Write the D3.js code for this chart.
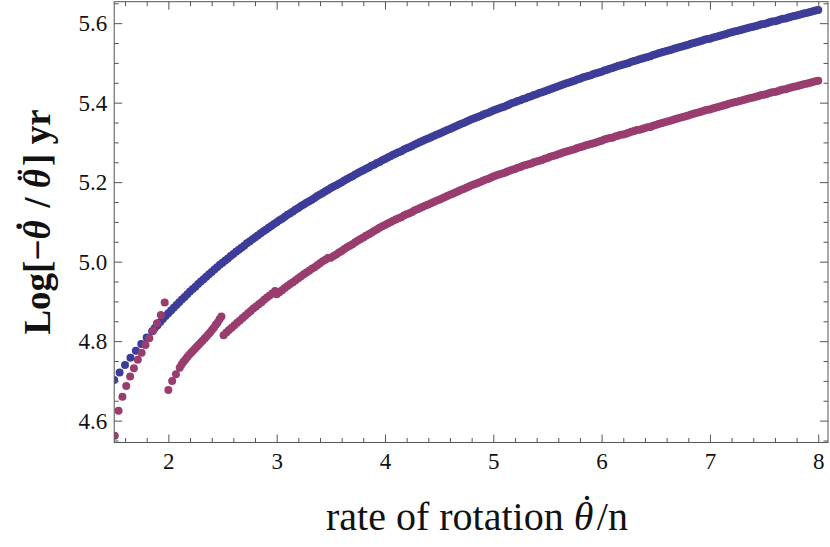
<!DOCTYPE html>
<html><head><meta charset="utf-8">
<script src="https://cdn.jsdelivr.net/npm/d3@7"></script>
<style>body{margin:0;background:#fff} svg{display:block}</style>
</head><body>
<svg id="c" width="830" height="547"></svg>
<script>
// ---- data ----
const xTicks = [2, 3, 4, 5, 6, 7, 8];
const yTicks = [4.6, 4.8, 5.0, 5.2, 5.4, 5.6];
const xTickLabels = ["2", "3", "4", "5", "6", "7", "8"];
const yTickLabels = ["4.6", "4.8", "5.0", "5.2", "5.4", "5.6"];

// blue series, low part
const blueLeftX = [1.50,1.55,1.60,1.65,1.70,1.75,1.80,1.85,1.875,1.90,1.925,1.95,1.975,
2.000,2.025,2.050,2.075,2.100,2.125,2.150,2.175,2.200,2.225,2.250,2.275,2.300,2.325,2.350,2.375,2.400,2.425,2.450,2.475];
const blueLeftY = [4.702,4.721,4.740,4.758,4.776,4.793,4.809,4.825,4.833,4.840,4.848,4.856,4.863,
4.870,4.877,4.884,4.891,4.898,4.905,4.911,4.918,4.925,4.931,4.937,4.944,4.950,4.956,4.962,4.968,4.974,4.980,4.986,4.992];

// blue series, x from 2.5 to 8
const blueRightX = [
2.500,2.525,2.550,2.575,2.600,2.625,2.650,2.675,2.700,2.725,2.750,2.775,2.800,2.825,2.850,2.875,2.900,2.925,2.950,2.975,
3.000,3.025,3.050,3.075,3.100,3.125,3.150,3.175,3.200,3.225,3.250,3.275,3.300,3.325,3.350,3.375,3.400,3.425,3.450,3.475,
3.500,3.525,3.550,3.575,3.600,3.625,3.650,3.675,3.700,3.725,3.750,3.775,3.800,3.825,3.850,3.875,3.900,3.925,3.950,3.975,
4.000,4.025,4.050,4.075,4.100,4.125,4.150,4.175,4.200,4.225,4.250,4.275,4.300,4.325,4.350,4.375,4.400,4.425,4.450,4.475,
4.500,4.525,4.550,4.575,4.600,4.625,4.650,4.675,4.700,4.725,4.750,4.775,4.800,4.825,4.850,4.875,4.900,4.925,4.950,4.975,
5.000,5.025,5.050,5.075,5.100,5.125,5.150,5.175,5.200,5.225,5.250,5.275,5.300,5.325,5.350,5.375,5.400,5.425,5.450,5.475,
5.500,5.525,5.550,5.575,5.600,5.625,5.650,5.675,5.700,5.725,5.750,5.775,5.800,5.825,5.850,5.875,5.900,5.925,5.950,5.975,
6.000,6.025,6.050,6.075,6.100,6.125,6.150,6.175,6.200,6.225,6.250,6.275,6.300,6.325,6.350,6.375,6.400,6.425,6.450,6.475,
6.500,6.525,6.550,6.575,6.600,6.625,6.650,6.675,6.700,6.725,6.750,6.775,6.800,6.825,6.850,6.875,6.900,6.925,6.950,6.975,
7.000,7.025,7.050,7.075,7.100,7.125,7.150,7.175,7.200,7.225,7.250,7.275,7.300,7.325,7.350,7.375,7.400,7.425,7.450,7.475,
7.500,7.525,7.550,7.575,7.600,7.625,7.650,7.675,7.700,7.725,7.750,7.775,7.800,7.825,7.850,7.875,7.900,7.925,7.950,7.975,
8.000];
const blueRightY = [
4.997,5.003,5.008,5.014,5.019,5.025,5.030,5.035,5.040,5.046,5.051,5.056,5.061,5.066,5.071,5.076,5.080,5.085,5.090,5.095,
5.099,5.104,5.108,5.113,5.118,5.122,5.126,5.131,5.135,5.140,5.144,5.148,5.152,5.156,5.160,5.165,5.169,5.173,5.177,5.181,
5.185,5.189,5.192,5.196,5.200,5.204,5.208,5.212,5.215,5.219,5.223,5.227,5.230,5.234,5.237,5.241,5.244,5.248,5.251,5.255,
5.258,5.262,5.265,5.269,5.272,5.275,5.278,5.282,5.285,5.288,5.291,5.295,5.298,5.301,5.304,5.307,5.310,5.313,5.316,5.319,
5.322,5.325,5.328,5.331,5.334,5.337,5.340,5.343,5.346,5.349,5.352,5.355,5.358,5.361,5.363,5.366,5.369,5.372,5.374,5.377,
5.380,5.383,5.385,5.388,5.390,5.393,5.396,5.399,5.401,5.404,5.406,5.409,5.411,5.414,5.416,5.419,5.421,5.424,5.426,5.429,
5.431,5.434,5.436,5.439,5.441,5.444,5.446,5.449,5.451,5.453,5.455,5.458,5.460,5.463,5.465,5.467,5.469,5.472,5.474,5.476,
5.478,5.481,5.483,5.485,5.487,5.490,5.492,5.494,5.496,5.498,5.500,5.503,5.505,5.507,5.509,5.511,5.513,5.515,5.517,5.520,
5.522,5.524,5.526,5.528,5.530,5.532,5.534,5.536,5.538,5.540,5.542,5.544,5.546,5.548,5.550,5.552,5.554,5.556,5.558,5.560,
5.561,5.563,5.565,5.567,5.569,5.571,5.573,5.575,5.577,5.579,5.580,5.582,5.584,5.586,5.588,5.590,5.591,5.593,5.595,5.597,
5.598,5.600,5.602,5.604,5.605,5.607,5.609,5.611,5.612,5.614,5.616,5.618,5.619,5.621,5.623,5.625,5.626,5.628,5.630,5.632,
5.633];

// magenta series, the broken low part (x < 3.5)
const magentaLeftX = [
1.505,1.540,1.576,1.611,1.647,1.682,1.718,1.753,1.789,1.824,1.860,1.895,1.931,1.966,
2.000,2.035,2.070,2.105,2.1225,2.140,2.1575,2.175,2.1925,2.210,2.2275,2.245,2.2625,2.280,2.2975,2.315,2.3325,2.350,2.3675,2.385,2.4025,2.420,2.4375,2.455,2.4725,2.490,
2.510,2.535,2.560,2.585,2.610,2.635,2.660,2.685,2.710,2.735,2.760,2.785,2.810,2.835,2.860,2.885,2.910,2.935,2.960,2.985,
3.000,3.025,3.050,3.075,3.100,3.125,3.150,3.175,3.200,3.225,3.250,3.275,3.300,3.325,3.350,3.375,3.400,3.425,3.450,3.475];
const magentaLeftY = [
4.562,4.625,4.660,4.687,4.711,4.732,4.753,4.771,4.790,4.807,4.826,4.845,4.866,4.897,
4.677,4.700,4.717,4.733,4.741,4.748,4.754,4.760,4.766,4.771,4.776,4.781,4.786,4.791,4.796,4.801,4.806,4.811,4.817,4.822,4.828,4.834,4.841,4.847,4.855,4.862,
4.815,4.822,4.828,4.834,4.840,4.846,4.852,4.858,4.864,4.870,4.876,4.882,4.887,4.893,4.898,4.904,4.910,4.915,4.920,4.926,
4.918,4.923,4.928,4.934,4.939,4.944,4.948,4.953,4.958,4.963,4.968,4.973,4.977,4.982,4.986,4.991,4.996,5.001,5.005,5.010];

// magenta series, x from 3.5 to 8
const magentaRightX = [
3.500,3.525,3.550,3.575,3.600,3.625,3.650,3.675,3.700,3.725,3.750,3.775,3.800,3.825,3.850,3.875,3.900,3.925,3.950,3.975,
4.000,4.025,4.050,4.075,4.100,4.125,4.150,4.175,4.200,4.225,4.250,4.275,4.300,4.325,4.350,4.375,4.400,4.425,4.450,4.475,
4.500,4.525,4.550,4.575,4.600,4.625,4.650,4.675,4.700,4.725,4.750,4.775,4.800,4.825,4.850,4.875,4.900,4.925,4.950,4.975,
5.000,5.025,5.050,5.075,5.100,5.125,5.150,5.175,5.200,5.225,5.250,5.275,5.300,5.325,5.350,5.375,5.400,5.425,5.450,5.475,
5.500,5.525,5.550,5.575,5.600,5.625,5.650,5.675,5.700,5.725,5.750,5.775,5.800,5.825,5.850,5.875,5.900,5.925,5.950,5.975,
6.000,6.025,6.050,6.075,6.100,6.125,6.150,6.175,6.200,6.225,6.250,6.275,6.300,6.325,6.350,6.375,6.400,6.425,6.450,6.475,
6.500,6.525,6.550,6.575,6.600,6.625,6.650,6.675,6.700,6.725,6.750,6.775,6.800,6.825,6.850,6.875,6.900,6.925,6.950,6.975,
7.000,7.025,7.050,7.075,7.100,7.125,7.150,7.175,7.200,7.225,7.250,7.275,7.300,7.325,7.350,7.375,7.400,7.425,7.450,7.475,
7.500,7.525,7.550,7.575,7.600,7.625,7.650,7.675,7.700,7.725,7.750,7.775,7.800,7.825,7.850,7.875,7.900,7.925,7.950,7.975,
8.000];
const magentaRightY = [
5.010,5.014,5.018,5.023,5.027,5.032,5.036,5.040,5.044,5.049,5.053,5.057,5.061,5.065,5.069,5.073,5.077,5.081,5.085,5.089,
5.092,5.096,5.099,5.103,5.106,5.109,5.112,5.116,5.119,5.122,5.125,5.129,5.132,5.135,5.138,5.141,5.144,5.147,5.150,5.153,
5.156,5.159,5.162,5.165,5.168,5.171,5.174,5.177,5.180,5.183,5.186,5.189,5.192,5.195,5.197,5.200,5.203,5.206,5.208,5.211,
5.214,5.217,5.219,5.221,5.223,5.226,5.229,5.231,5.233,5.236,5.238,5.241,5.243,5.245,5.247,5.250,5.252,5.254,5.256,5.259,
5.261,5.264,5.266,5.268,5.270,5.273,5.275,5.277,5.279,5.281,5.283,5.286,5.288,5.290,5.292,5.294,5.296,5.298,5.300,5.302,
5.304,5.307,5.309,5.311,5.312,5.315,5.317,5.319,5.320,5.322,5.324,5.327,5.329,5.331,5.332,5.334,5.336,5.338,5.339,5.342,
5.344,5.346,5.348,5.350,5.352,5.354,5.356,5.358,5.360,5.362,5.364,5.366,5.368,5.370,5.372,5.374,5.376,5.378,5.380,5.382,
5.383,5.385,5.387,5.389,5.391,5.393,5.395,5.397,5.399,5.401,5.402,5.404,5.406,5.408,5.410,5.412,5.413,5.415,5.417,5.419,
5.420,5.422,5.424,5.426,5.427,5.429,5.431,5.433,5.434,5.436,5.438,5.440,5.441,5.443,5.445,5.447,5.448,5.450,5.452,5.454,
5.455];

// ---- layout ----
const L = 114.2, R = 828, T = 1.7, B = 442.5;
const x = d3.scaleLinear().domain([1.5, 8.09]).range([L, R]);
const y = d3.scaleLinear().domain([4.545, 5.654]).range([B, T]);
const frameColor = "#555";
const serif = "'Liberation Serif', 'DejaVu Serif', serif";
const dotR = 4.0;

const svg = d3.select("#c");

svg.append("defs").append("clipPath").attr("id", "plotclip")
  .append("rect").attr("x", L).attr("y", T).attr("width", R - L).attr("height", B - T);

// points
const pts = svg.append("g").attr("clip-path", "url(#plotclip)");
const zipXY = (xs, ys) => xs.map((v, i) => [v, ys[i]]);
const blueData = zipXY(blueLeftX, blueLeftY).concat(zipXY(blueRightX, blueRightY));
const magData = zipXY(magentaLeftX, magentaLeftY).concat(zipXY(magentaRightX, magentaRightY));
pts.selectAll("circle.b").data(blueData).enter().append("circle")
  .attr("class", "b").attr("cx", d => x(d[0])).attr("cy", d => y(d[1]))
  .attr("r", dotR).attr("fill", "#3d3d99");
pts.selectAll("circle.m").data(magData).enter().append("circle")
  .attr("class", "m").attr("cx", d => x(d[0])).attr("cy", d => y(d[1]))
  .attr("r", dotR).attr("fill", "#993d6e");

// minor ticks
const xMinor = d3.range(1.6, 8.05, 0.2).filter(v => Math.abs(v - Math.round(v)) > 0.01);
const yMinor = d3.range(4.55, 5.66, 0.05).filter(v => Math.abs(v * 5 - Math.round(v * 5)) > 0.01);

function styleAxis(g) {
  g.select(".domain").remove();
  g.selectAll(".tick line").attr("stroke", frameColor).attr("stroke-width", 1);
  g.selectAll(".tick text").attr("font-family", serif).attr("font-size", 23).attr("fill", "#111");
}

// bottom
svg.append("g").attr("transform", `translate(0,${B})`)
  .call(d3.axisBottom(x).tickValues(xTicks).tickSize(-8).tickPadding(10)
    .tickFormat((d, i) => xTickLabels[i])).call(styleAxis);
svg.append("g").attr("transform", `translate(0,${B})`)
  .call(d3.axisBottom(x).tickValues(xMinor).tickSize(-4.5).tickFormat("")).call(styleAxis);
// top
svg.append("g").attr("transform", `translate(0,${T})`)
  .call(d3.axisTop(x).tickValues(xTicks).tickSize(-8).tickFormat("")).call(styleAxis);
svg.append("g").attr("transform", `translate(0,${T})`)
  .call(d3.axisTop(x).tickValues(xMinor).tickSize(-4.5).tickFormat("")).call(styleAxis);
// left
svg.append("g").attr("transform", `translate(${L},0)`)
  .call(d3.axisLeft(y).tickValues(yTicks).tickSize(-8).tickPadding(7)
    .tickFormat((d, i) => yTickLabels[i])).call(styleAxis);
svg.append("g").attr("transform", `translate(${L},0)`)
  .call(d3.axisLeft(y).tickValues(yMinor).tickSize(-4.5).tickFormat("")).call(styleAxis);
// right
svg.append("g").attr("transform", `translate(${R},0)`)
  .call(d3.axisRight(y).tickValues(yTicks).tickSize(-8).tickFormat("")).call(styleAxis);
svg.append("g").attr("transform", `translate(${R},0)`)
  .call(d3.axisRight(y).tickValues(yMinor).tickSize(-4.5).tickFormat("")).call(styleAxis);

// frame
svg.append("rect").attr("x", L).attr("y", T).attr("width", R - L).attr("height", B - T)
  .attr("fill", "none").attr("stroke", frameColor).attr("stroke-width", 1);

// theta with dot(s) placed above it
function thetaDot(t, accent) {
  t.append("tspan").attr("font-style", "italic").text("\u03B8");
  t.append("tspan").attr("dx", "-0.33em").attr("dy", "-0.2em").text(accent);
  t.append("tspan").attr("dx", "0em").attr("dy", "0.2em").text("\u200A");
}

// axis labels
const xl = svg.append("text").attr("x", 477).attr("y", 530).attr("text-anchor", "middle")
  .attr("font-family", serif).attr("font-size", 40).attr("fill", "#111");
xl.append("tspan").text("rate of rotation ");
thetaDot(xl, "\u02D9");
xl.append("tspan").text("/n");

const yl = svg.append("text").attr("transform", "translate(50,222) rotate(-90)")
  .attr("text-anchor", "middle").attr("font-family", serif).attr("font-size", 37)
  .attr("font-weight", "bold").attr("fill", "#111");
yl.append("tspan").text("Log[\u2212");
thetaDot(yl, "\u02D9");
yl.append("tspan").text(" / ");
thetaDot(yl, "\u00A8");
yl.append("tspan").text("] yr");
</script>
</body></html>
